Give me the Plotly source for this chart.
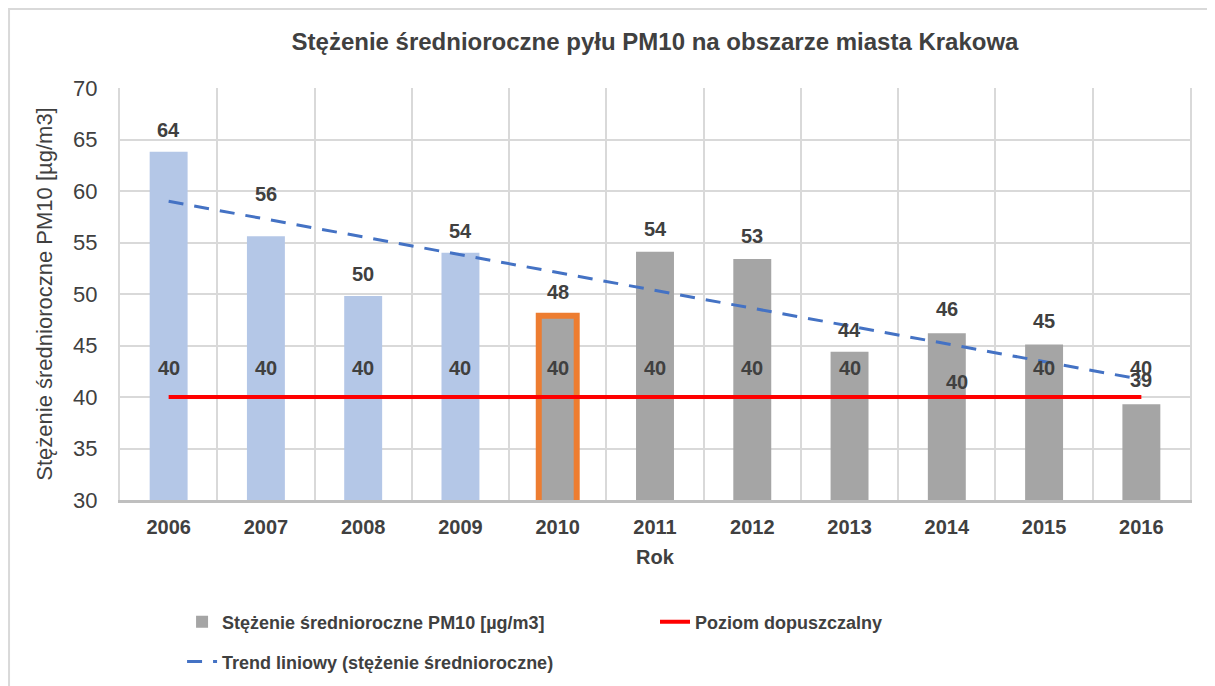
import plotly.graph_objects as go

# ---------------- data ----------------
years = ["2006", "2007", "2008", "2009", "2010", "2011", "2012", "2013", "2014", "2015", "2016"]
pm10 = [63.8, 55.6, 49.8, 54.0, 47.9, 54.1, 53.4, 44.4, 46.2, 45.1, 39.3]
limit_value = [40, 40, 40, 40, 40, 40, 40, 40, 40, 40, 40]
trend_years = ["2006", "2016"]
trend_values = [59.0, 41.7]

blue_years = years[:4]
blue_vals = pm10[:4]
hl_years = years[4:5]
hl_vals = pm10[4:5]
gray_years = years[5:]
gray_vals = pm10[5:]

# ---------------- styling ----------------
FONT = "Liberation Sans, Arial, sans-serif"
TXT = "#404040"
GRID = "#D9D9D9"
BAR_W = 0.39
label_shift = [22, 42, 22, 22, 24, 23, 23, 22, 24, 23, 24]
limit_shift = [29, 29, 29, 29, 29, 29, 29, 29, 15, 29, 29]
limit_xshift = [0, 0, 0, 0, 0, 0, 0, 0, 10, 0, 0]

fig = go.Figure()

fig.add_trace(go.Bar(
    x=gray_years, y=gray_vals, width=BAR_W,
    name="Stężenie średnioroczne PM10 [µg/m3]",
    marker=dict(color="#A5A5A5", line=dict(width=0)),
    legend="legend",
))
fig.add_trace(go.Bar(
    x=blue_years, y=blue_vals, width=BAR_W, showlegend=False,
    marker=dict(color="#B4C7E7", line=dict(width=0)),
))
fig.add_trace(go.Bar(
    x=hl_years, y=hl_vals, width=BAR_W, showlegend=False,
    marker=dict(color="#A5A5A5", line=dict(width=6, color="#ED7D31")),
))
fig.add_trace(go.Scatter(
    x=years, y=limit_value, mode="lines", name="Poziom dopuszczalny",
    line=dict(color="#FF0000", width=4), legend="legend2",
))
fig.add_trace(go.Scatter(
    x=trend_years, y=trend_values, mode="lines",
    name="Trend liniowy (stężenie średnioroczne)",
    line=dict(color="#4472C4", width=3, dash="15px,11px"), legend="legend3",
))

annotations = []
for i, v in enumerate(pm10):
    annotations.append(dict(
        x=i, y=v, text=f"{v:.0f}", showarrow=False, yanchor="middle",
        yshift=label_shift[i], font=dict(family=FONT, size=20, color=TXT, weight="bold"),
    ))
for i, v in enumerate(limit_value):
    annotations.append(dict(
        x=i, y=v, text=f"{v:.0f}", showarrow=False, yanchor="middle",
        yshift=limit_shift[i], xshift=limit_xshift[i],
        font=dict(family=FONT, size=20, color=TXT, weight="bold"),
    ))

legend_common = dict(
    orientation="h", xanchor="left", yanchor="middle", bgcolor="rgba(0,0,0,0)",
    font=dict(family=FONT, size=18, color=TXT, weight="bold"), itemwidth=30,
)

# page body has an 8px default margin -> figure is shrunk by 8px
fig.update_layout(
    width=1207, height=678,
    margin=dict(l=112, r=25, t=80, b=186, autoexpand=False),
    paper_bgcolor="white", plot_bgcolor="white",
    barmode="overlay",
    font=dict(family=FONT, color=TXT),
    title=dict(
        text="Stężenie średnioroczne pyłu PM10 na obszarze miasta Krakowa",
        x=0.5, xref="paper", xanchor="center", y=0.95, yanchor="middle",
        font=dict(family=FONT, size=24, color=TXT, weight="bold"),
    ),
    xaxis=dict(
        type="category", categoryorder="array", categoryarray=years,
        range=[-0.5, len(years) - 0.5], autorange=False,
        tickson="boundaries", showgrid=True, gridcolor=GRID, gridwidth=2,
        showline=True, linecolor="#BFBFBF", linewidth=3,
        ticks="", ticklabelstandoff=7, tickangle=0,
        tickfont=dict(family=FONT, size=20, color=TXT, weight="bold"),
        title=dict(text="Rok", standoff=13,
                   font=dict(family=FONT, size=20, color=TXT, weight="bold")),
    ),
    yaxis=dict(
        range=[30, 70], dtick=5, tick0=30, showgrid=True, gridcolor=GRID, gridwidth=2,
        zeroline=False, showline=True, linecolor=GRID, linewidth=2, mirror=True,
        ticks="", ticklabelstandoff=16,
        tickfont=dict(family=FONT, size=22, color=TXT),
        title=dict(text="Stężenie średnioroczne PM10 [µg/m3]", standoff=14,
                   font=dict(family=FONT, size=22, color=TXT)),
    ),
    legend=dict(x=0.058, y=-0.296, **legend_common),
    legend2=dict(x=0.5, y=-0.296, **legend_common),
    legend3=dict(x=0.058, y=-0.393, **legend_common),
    annotations=annotations,
    shapes=[dict(
        type="rect", xref="paper", yref="paper",
        x0=-0.1037, x1=1.04, y0=-0.5, y1=1.1917,
        line=dict(color=GRID, width=2), fillcolor="rgba(0,0,0,0)", layer="below",
    )],
    showlegend=True,
)

fig.write_html("out.html")
